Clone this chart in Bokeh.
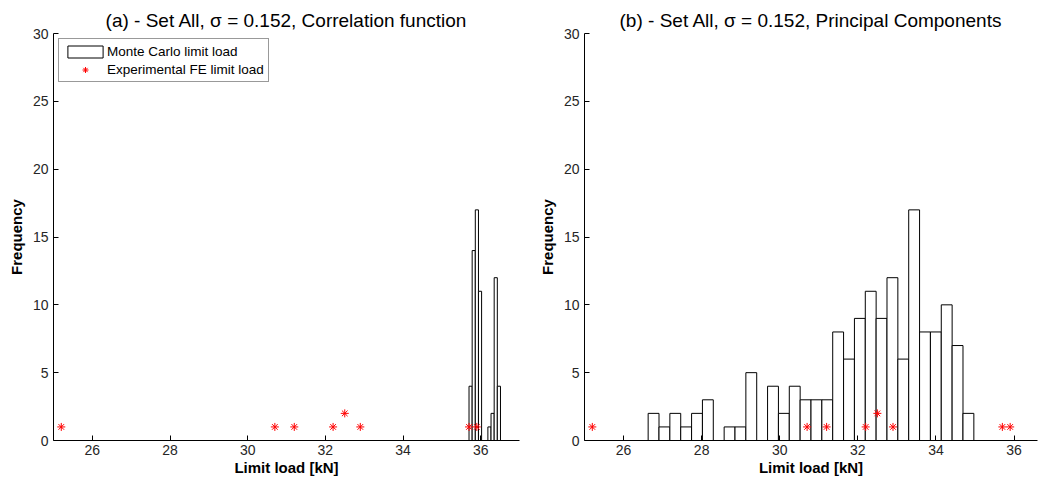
from bokeh.plotting import figure
from bokeh.models import Legend, LegendItem, FixedTicker, Range1d
from bokeh.layouts import row
from bokeh.embed import file_html
from bokeh.resources import INLINE

# ---------------- data ----------------
titles = ["(a) - Set All, \u03c3 = 0.152, Correlation function",
          "(b) - Set All, \u03c3 = 0.152, Principal Components"]

left_centers = [35.7405, 35.8215, 35.9025, 35.9835, 36.0645,
                36.1455, 36.2265, 36.3075, 36.3885, 36.4695]
left_counts = [4, 14, 17, 11, 0, 0, 1, 2, 12, 4]
left_bin_width = 0.081

right_centers = [26.769, 27.047, 27.325, 27.603, 27.881, 28.159, 28.437, 28.715,
                 28.993, 29.271, 29.549, 29.827, 30.105, 30.383, 30.661, 30.939,
                 31.217, 31.495, 31.773, 32.051, 32.329, 32.607, 32.885, 33.163,
                 33.441, 33.719, 33.997, 34.275, 34.553, 34.831]
right_counts = [2, 1, 2, 1, 2, 3, 0, 1, 1, 5, 0, 4, 2, 4, 3, 3, 3,
                8, 6, 9, 11, 9, 12, 6, 17, 8, 8, 10, 7, 2]
right_bin_width = 0.278

exp_loads = [25.2, 30.7, 31.2, 32.2, 32.5, 32.9, 35.7, 35.9]
exp_freq = [1, 1, 1, 1, 2, 1, 1, 1]

x_ticks = [26, 28, 30, 32, 34, 36]
y_ticks = [0, 5, 10, 15, 20, 25, 30]

x_label = "Limit load [kN]"
y_label = "Frequency"
legend_labels = ["Monte Carlo limit load", "Experimental FE limit load"]

FONT = "Liberation Sans"


def make_fig(title, centers, counts, width_bin, x_end, width, mb_left, mb_right, legend):
    p = figure(width=width, height=481, output_backend="svg", toolbar_location=None,
               x_range=Range1d(25, x_end), y_range=Range1d(0, 30),
               min_border_left=mb_left, min_border_right=mb_right,
               min_border_top=33, min_border_bottom=41, title=title)
    p.title.text_font = FONT
    p.title.text_font_size = "19px"
    p.title.text_font_style = "normal"
    p.title.align = "center"
    p.title.text_color = "black"
    p.title.standoff = 6
    p.outline_line_color = None
    p.xgrid.visible = False
    p.ygrid.visible = False

    bars = p.vbar(x=centers, top=counts, width=width_bin, bottom=0,
                  fill_color="white", line_color="black", line_width=1)
    pts = p.scatter(x=exp_loads, y=exp_freq, marker="asterisk", size=8,
                    line_color="red", line_width=1)

    for ax, ticks in ((p.xaxis[0], x_ticks), (p.yaxis[0], y_ticks)):
        ax.ticker = FixedTicker(ticks=ticks)
        ax.major_tick_in = 5
        ax.major_tick_out = 0
        ax.minor_tick_line_color = None
        ax.axis_line_color = "black"
        ax.major_tick_line_color = "black"
        ax.major_label_text_font = FONT
        ax.major_label_text_font_size = "14px"
        ax.major_label_text_color = "#262626"
        ax.axis_label_text_font = FONT
        ax.axis_label_text_font_size = "15px"
        ax.axis_label_text_font_style = "bold"
        ax.axis_label_text_color = "black"
    p.xaxis.axis_label = x_label
    p.yaxis.axis_label = y_label
    p.xaxis.major_label_standoff = 4
    p.xaxis.axis_label_standoff = 1
    p.yaxis.major_label_standoff = 5
    p.yaxis.axis_label_standoff = 5

    if legend:
        lg = Legend(items=[LegendItem(label=legend_labels[0], renderers=[bars]),
                           LegendItem(label=legend_labels[1], renderers=[pts])],
                    location="top_left")
        lg.margin = 5
        lg.padding = 4
        lg.spacing = 2
        lg.glyph_width = 44
        lg.glyph_height = 15
        lg.label_height = 16
        lg.label_standoff = 0
        lg.label_text_font = FONT
        lg.label_text_font_size = "13.5px"
        lg.label_text_color = "black"
        lg.border_line_color = "#333333"
        lg.border_line_width = 1
        lg.background_fill_color = "white"
        lg.background_fill_alpha = 1
        p.add_layout(lg, "center")
    return p


p1 = make_fig(titles[0], left_centers, left_counts, left_bin_width, 37,
              width=530, mb_left=53, mb_right=11, legend=True)
p2 = make_fig(titles[1], right_centers, right_counts, right_bin_width, 36.6,
              width=510, mb_left=54, mb_right=3, legend=False)

layout = row(p1, p2)
open("out.html", "w").write(file_html(layout, INLINE))
